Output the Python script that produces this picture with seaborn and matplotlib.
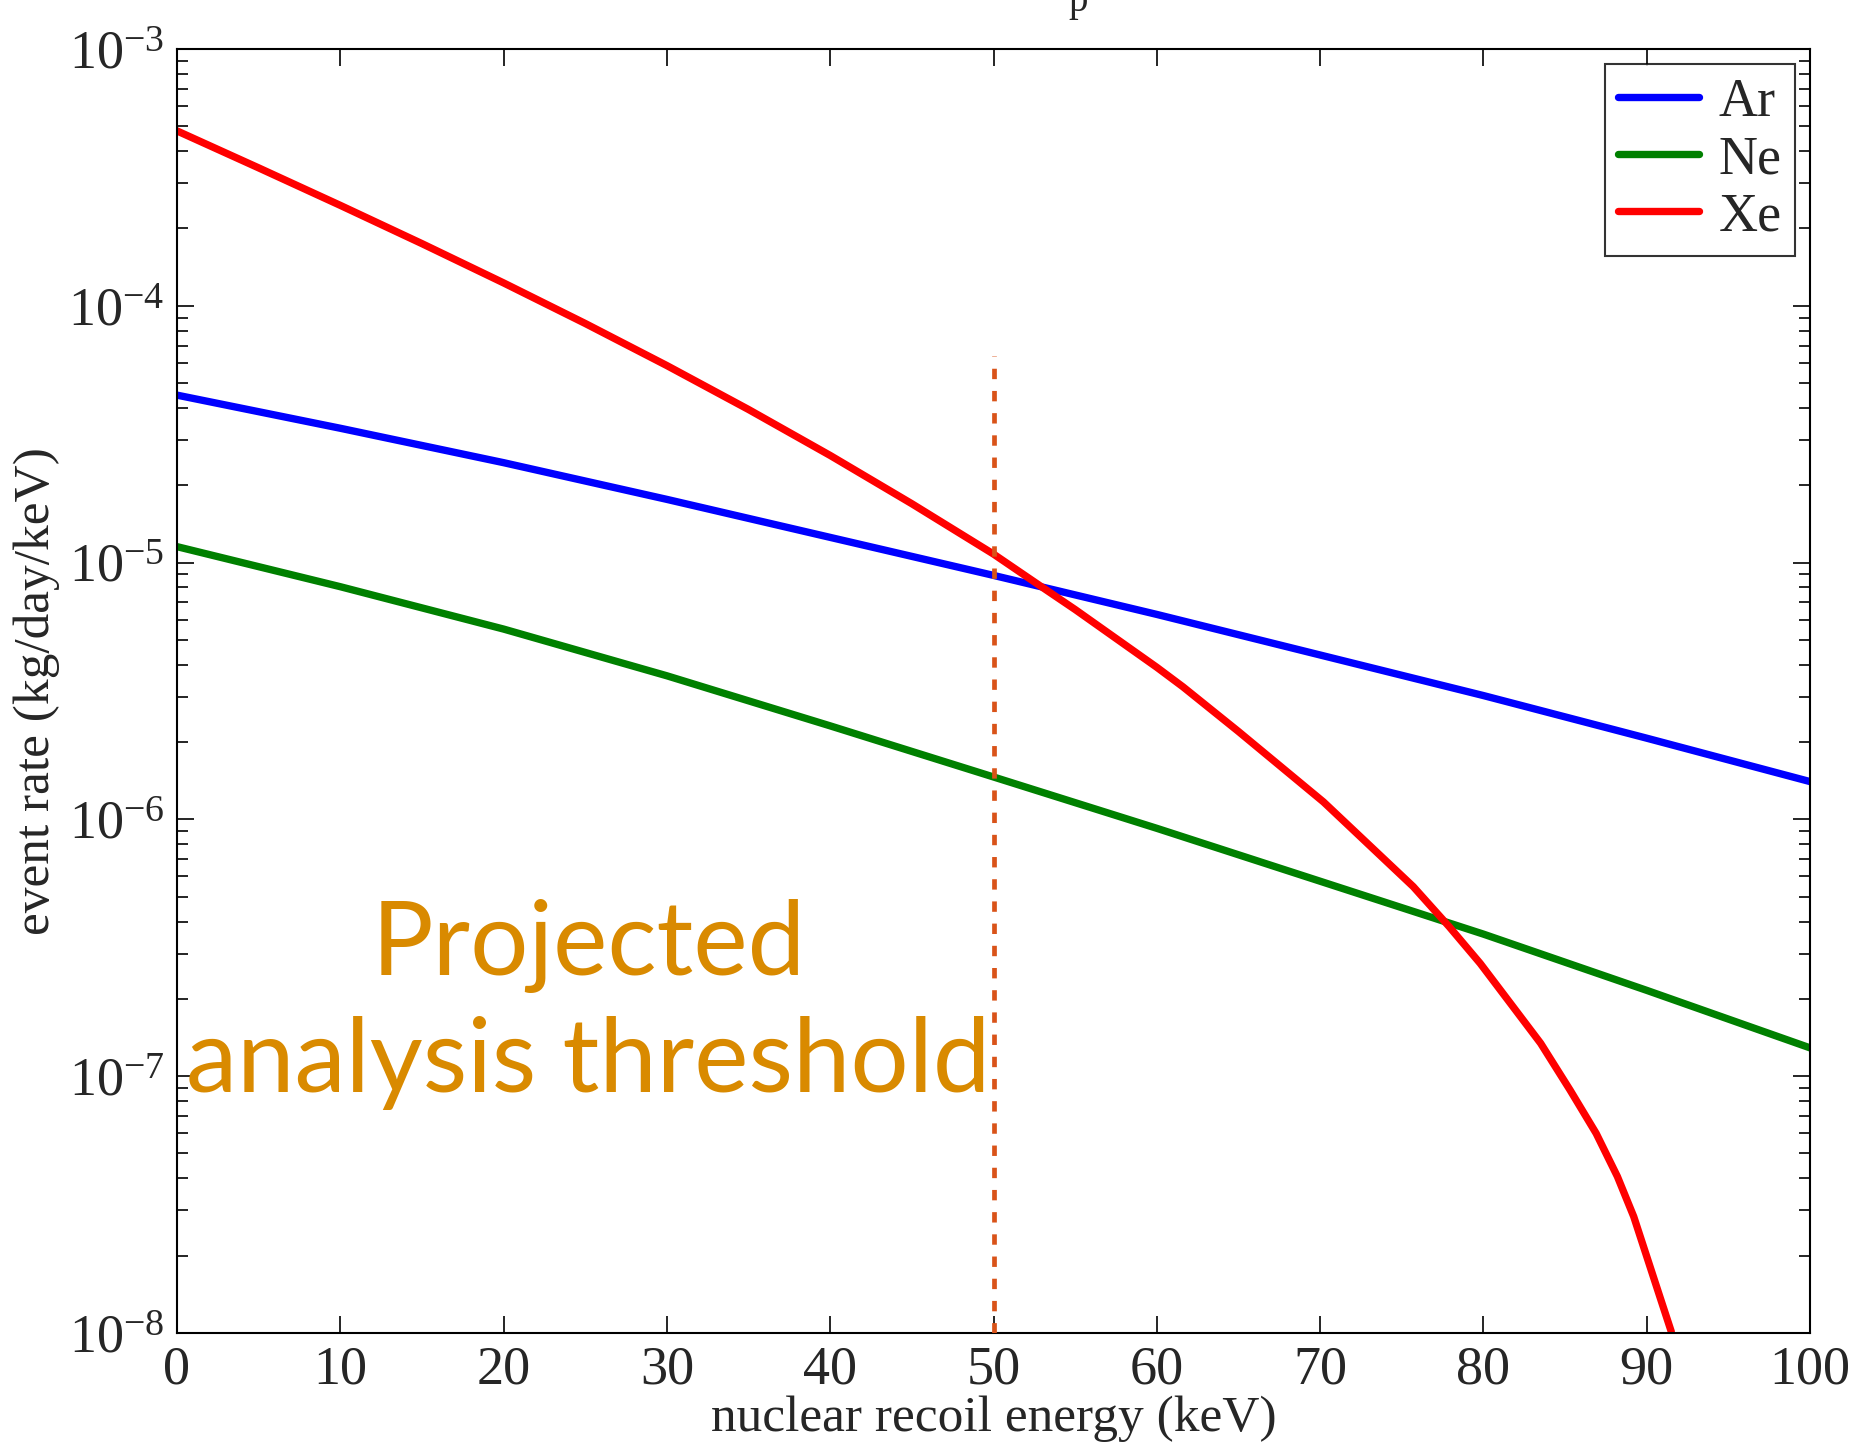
import numpy as np
import pandas as pd
import matplotlib
matplotlib.use('Agg')
import matplotlib.pyplot as plt
from matplotlib.ticker import LogLocator, MultipleLocator, NullFormatter
import seaborn as sns

# valores (log10 de la tasa de eventos)
ar_kev = [0, 10, 20, 30, 40, 50, 60, 70, 80, 90, 100]
ar_log = [-4.348, -4.477, -4.611, -4.754, -4.902, -5.050, -5.202, -5.360, -5.518, -5.684, -5.853]

ne_kev = [0, 10, 20, 30, 40, 50, 60, 70, 80, 90, 100]
ne_log = [-4.938, -5.094, -5.259, -5.441, -5.636, -5.835, -6.035, -6.241, -6.447, -6.666, -6.890]

xe_kev = [0, 5, 10, 15, 20, 25, 30, 35, 40, 45, 50, 53, 55, 60, 61.6, 65, 70.2,
          75.7, 77.9, 79.8, 81.8, 83.5, 85.3, 86.9, 88.2, 89.2, 90.0, 90.8, 91.5]
xe_log = [-3.319, -3.463, -3.609, -3.758, -3.911, -4.069, -4.233, -4.404, -4.583, -4.771,
          -4.967, -5.097, -5.183, -5.408, -5.484, -5.658, -5.932,
          -6.262, -6.418, -6.561, -6.729, -6.872, -7.054, -7.223, -7.391, -7.547,
          -7.703, -7.859, -7.995]

elementos = ['Ar', 'Ne', 'Xe']
colores = ['#0000ff', '#008000', '#ff0000']
umbral_kev = 50
umbral_top = 6.4e-5

df = pd.concat([
    pd.DataFrame({'energia': ar_kev, 'tasa': 10 ** np.array(ar_log), 'elemento': 'Ar'}),
    pd.DataFrame({'energia': ne_kev, 'tasa': 10 ** np.array(ne_log), 'elemento': 'Ne'}),
    pd.DataFrame({'energia': xe_kev, 'tasa': 10 ** np.array(xe_log), 'elemento': 'Xe'}),
])

sns.set_style('ticks')
plt.rcParams['font.family'] = ['Liberation Serif', 'DejaVu Serif']
plt.rcParams['mathtext.fontset'] = 'stix'

fig = plt.figure(figsize=(18.59, 14.49), dpi=100)
ax = fig.add_axes([0.0952, 0.0801, 0.8785, 0.8861])

for el, c in zip(elementos, colores):
    sns.lineplot(data=df[df['elemento'] == el], x='energia', y='tasa',
                 color=c, lw=5.3, label=el, ax=ax, solid_joinstyle='round')

# linea del umbral de analisis
ax.vlines(umbral_kev, 1e-8, umbral_top, colors='#D95319', lw=3.4,
          linestyles=(0, (2.2, 2.5)), zorder=3)

ax.set_yscale('log')
ax.set_xlim(0, 100)
ax.set_ylim(1e-8, 1e-3)
ax.xaxis.set_major_locator(MultipleLocator(10))
ax.yaxis.set_major_locator(LogLocator(base=10, numticks=10))
ax.yaxis.set_minor_locator(LogLocator(base=10, subs=np.arange(2, 10), numticks=20))
ax.yaxis.set_minor_formatter(NullFormatter())

ax.tick_params(which='both', direction='in', top=True, right=True,
               labelsize=39, width=1.2, color='black')
ax.tick_params(which='major', length=12, pad=9)
ax.tick_params(which='minor', length=8)
for s in ax.spines.values():
    s.set_linewidth(1.5)
    s.set_color('black')

ax.set_xlabel('nuclear recoil energy (keV)', fontsize=37, labelpad=0)
ax.set_ylabel('event rate (kg/day/keV)', fontsize=37, labelpad=6)

ax.text(25.2, 10 ** -6.72, 'Projected\nanalysis threshold', fontsize=74,
        family=['Lato', 'DejaVu Sans'], color='#D98A00', ha='center', va='center',
        linespacing=1.3)

leg = ax.legend(loc='upper right', fontsize=39, frameon=True, fancybox=False,
                edgecolor='black', borderaxespad=0.28, handlelength=1.5,
                handletextpad=0.35, labelspacing=0.12, borderpad=0.25)
leg.get_frame().set_linewidth(1.5)

# resto del titulo cortado arriba
fig.text(1078 / 1859, 1 - 11 / 1449, 'p', fontsize=28, ha='center', va='baseline')

fig.savefig('out.png', dpi=100)
